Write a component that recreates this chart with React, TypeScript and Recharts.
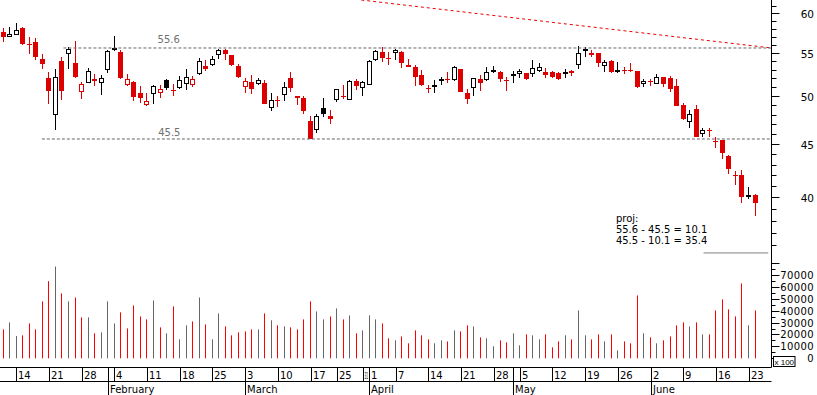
import React from 'react';
import { ComposedChart, Bar, XAxis, YAxis, ReferenceLine, ReferenceDot } from 'recharts';

// ---------- data ----------
const tradingDays = [
  '01-10','01-11','01-14','01-15','01-16','01-17','01-18','01-21','01-22','01-23','01-24','01-25','01-28','01-29','01-30','01-31',
  '02-01','02-04','02-05','02-06','02-07','02-08','02-11','02-12','02-13','02-14','02-15','02-18','02-19','02-20','02-21','02-22','02-25','02-26','02-27','02-28','02-29',
  '03-03','03-04','03-05','03-06','03-07','03-10','03-11','03-12','03-13','03-14','03-17','03-18','03-19','03-20','03-25','03-26','03-27','03-28','03-31',
  '04-01','04-02','04-03','04-04','04-07','04-08','04-09','04-10','04-11','04-14','04-15','04-16','04-17','04-18','04-21','04-22','04-23','04-24','04-25','04-28','04-29','04-30',
  '05-02','05-05','05-06','05-07','05-08','05-09','05-12','05-13','05-14','05-15','05-16','05-19','05-20','05-21','05-22','05-23','05-26','05-27','05-28','05-29','05-30',
  '06-02','06-03','06-04','06-05','06-06','06-09','06-10','06-11','06-12','06-13','06-16','06-17','06-18','06-19','06-20','06-23','06-24',
];

const openPrices = [
  57.6,57.0,57.2,58.1,56.1,56.3,54.3,52.0,48.0,54.0,54.9,53.8,50.5,51.5,51.9,51.5,
  53.0,55.5,55.1,51.2,51.6,50.4,49.0,50.2,50.4,51.8,50.7,50.9,51.4,51.2,52.5,53.4,53.5,54.7,55.4,54.7,53.4,
  51.0,51.6,51.4,51.5,48.7,49.6,50.1,52.0,50.0,49.8,47.3,46.4,48.7,47.9,49.6,50.0,49.6,51.7,50.9,
  51.3,54.2,55.1,54.4,55.0,55.1,53.55,53.3,52.4,50.9,51.2,51.9,51.95,51.8,53.1,50.4,50.9,51.9,51.8,52.7,52.7,51.85,
  52.4,52.45,52.6,52.45,52.8,52.7,52.7,52.6,52.45,52.9,53.5,55.4,55.0,55.0,53.4,54.0,52.7,53.0,52.95,52.8,51.4,
  51.7,51.4,52.15,52.0,51.15,49.0,47.25,48.6,46.0,46.45,45.3,45.35,43.8,42.0,42.0,40.25,40.2,
];
const highPrices = [
  58.1,58.2,58.7,58.2,57.0,56.8,54.9,52.7,53.1,54.5,55.7,56.5,51.6,53.2,52.5,52.4,
  55.3,57.1,55.3,52.5,51.7,51.1,50.3,51.2,51.3,51.9,51.4,52.3,53.1,52.3,54.4,54.1,54.6,55.5,55.5,54.8,53.7,
  52.1,52.4,52.0,51.8,50.3,50.0,51.6,52.7,50.05,50.0,47.9,48.1,49.8,48.5,50.8,51.3,51.8,51.9,51.7,
  54.1,55.3,55.7,55.1,55.5,55.2,54.3,53.55,53.0,51.3,51.8,52.2,52.7,53.4,53.1,50.8,52.0,52.4,53.3,53.4,52.85,52.2,
  52.85,53.05,52.6,54.1,53.8,53.2,52.85,52.75,53.1,52.95,55.8,55.7,55.3,55.0,54.1,54.15,53.9,53.3,53.75,52.85,51.9,
  51.9,52.45,52.2,52.25,51.9,49.25,48.5,49.0,46.6,46.6,45.7,45.4,43.9,42.4,42.5,40.9,40.35,
];
const lowPrices = [
  56.4,57.0,57.2,56.0,54.9,54.2,53.1,49.1,46.4,49.6,53.1,52.1,49.7,51.5,51.1,50.1,
  52.6,55.2,51.9,51.1,49.5,49.3,48.9,49.1,49.8,50.7,50.0,50.8,50.7,51.0,52.4,52.8,53.4,54.3,54.1,53.4,52.0,
  50.4,50.2,51.2,49.1,48.4,48.8,49.5,50.5,49.0,48.1,45.5,46.1,47.8,47.0,49.4,49.7,49.6,50.7,50.0,
  51.2,54.0,53.9,53.5,54.2,53.2,53.3,51.1,51.1,50.4,50.3,51.3,51.5,51.7,50.45,49.2,50.0,50.6,51.7,52.6,51.6,50.6,
  51.5,52.05,51.8,52.2,52.75,52.0,52.05,51.8,52.05,52.3,53.1,54.5,54.5,53.3,52.7,52.6,52.65,52.5,52.7,50.9,51.0,
  51.15,51.4,51.0,50.5,48.9,47.45,46.6,45.7,45.7,45.7,44.6,43.5,42.15,41.1,39.5,39.9,38.4,
];
const closePrices = [
  56.9,57.4,57.8,56.1,56.0,54.5,53.7,50.6,52.2,50.6,55.5,52.2,51.4,52.8,51.7,52.0,
  55.2,55.6,52.1,51.9,49.9,49.8,49.5,51.1,50.8,50.9,50.6,51.8,52.2,51.9,54.0,53.1,54.3,55.3,54.9,53.5,52.2,
  51.7,50.8,51.8,49.2,49.6,49.5,51.0,50.9,49.8,48.4,45.5,47.9,48.1,47.5,50.8,49.9,51.7,51.15,51.6,
  54.0,55.2,54.4,54.3,55.4,53.8,53.35,52.2,51.2,50.85,51.25,51.95,51.9,53.3,50.5,49.7,52.0,51.5,52.7,53.0,51.9,51.8,
  52.45,52.9,51.95,53.15,53.3,52.4,52.2,51.95,52.7,52.65,55.0,55.45,54.8,53.8,53.9,52.7,53.0,52.9,52.85,51.0,51.75,
  51.65,52.15,51.4,50.8,48.95,47.55,48.1,45.7,46.4,46.3,45.25,44.15,42.6,41.95,40.0,40.05,39.5,
];
const volumes = [
  24300,30200,18700,19300,29300,24300,47800,64800,77100,54500,47800,51100,34400,34400,21000,21800,
  47800,29300,38600,25100,44400,35200,32700,48600,26000,21000,43600,15900,27700,31000,51100,28500,15900,37700,26800,19300,21800,
  22600,24300,24300,37700,31900,27700,26800,26000,24300,32700,47800,39400,32700,35200,41900,32700,36000,21000,23500,
  36000,32700,29300,16800,15100,18400,12600,23500,19300,15900,12600,15100,14200,23500,22600,27700,26800,17600,16800,10100,15100,13400,
  21000,10900,20100,19300,15900,20100,9200,14200,19300,15900,40200,19300,15900,20100,14200,20100,6700,14200,12600,52800,21000,
  17600,12600,15100,18400,27700,30200,26800,30200,20100,20100,40200,49500,41100,35200,62900,27700,40200,
];
const prevCloseBeforeStart = 58.0;

const weekTickDates = ['01-14','01-21','01-28','02-04','02-11','02-18','02-25','03-03','03-10','03-17','03-25','03-31','04-01','04-07','04-14','04-21','04-28','05-05','05-12','05-19','05-26','06-02','06-09','06-16','06-23'];
const weekTickLabels = ['14','21','28','4','11','18','25','3','10','17','25','31','1','7','14','21','28','5','12','19','26','2','9','16','23'];
const monthStartDates = ['02-01','03-03','04-01','05-02','06-02'];
const monthLabels = ['February','March','April','May','June'];

const priceTicks = [36,37,38,39,40,41,42,43,44,45,46,47,48,49,50,51,52,53,54,55,56,57,58,59,60,61];
const volumeTicks = [0,5000,10000,15000,20000,25000,30000,35000,40000,45000,50000,55000,60000,65000,70000,75000,80000];
const volumeTickLabels = ['0','10000','20000','30000','40000','50000','60000','70000'];

const resistanceLevel = 55.6;
const supportLevel = 45.5;
const projectionTarget = 35.4;
const projLines = ['proj:', '55.6 - 45.5 = 10.1', '45.5 - 10.1 = 35.4'];
const trendStart = { idx: 54.75, price: 61.8 };
const trendEnd = { idx: 117.5, price: 55.6 };

// ---------- layout constants ----------
const W = 817;
const AXIS_W = 45.5;
const PLOT_RIGHT = W - AXIS_W;
const PRICE_H = 262;
const VOL_H = 133;
const PAD_SLOTS = 2;
const PRICE_DOMAIN = [Math.log(34.7), Math.log(61.8)];
const VOL_DOMAIN = [-7730, 80920];
const FONT = '"DejaVu Sans", "Liberation Sans", Arial, sans-serif';

const RED = '#dd0000';
const VOL_RED = '#ff0000';
const VOL_GRAY = '#666666';

const rows = Array.from({ length: tradingDays.length + PAD_SLOTS }, (_, i) => {
  if (i >= tradingDays.length) return { idx: i, range: null, volume: null };
  const prev = i === 0 ? prevCloseBeforeStart : closePrices[i - 1];
  return {
    idx: i,
    date: tradingDays[i],
    open: openPrices[i],
    high: highPrices[i],
    low: lowPrices[i],
    close: closePrices[i],
    up: closePrices[i] >= prev,
    range: [Math.log(lowPrices[i]), Math.log(highPrices[i])],
    volume: volumes[i],
  };
});
const SLOT = PLOT_RIGHT / rows.length;

// indices of dates that carry a tick in the date axis
const tickedIdx = tradingDays
  .map((d, i) => (weekTickDates.indexOf(d) >= 0 || monthStartDates.indexOf(d) >= 0 ? i : -1))
  .filter((i) => i >= 0);

// ---------- shapes ----------
function Candle(props: any) {
  const { x, y, width, height, payload } = props;
  if (!payload || payload.open == null) return <g />;
  const top = Math.min(y, y + height);
  const bot = Math.max(y, y + height);
  const lnH = Math.log(payload.high);
  const lnL = Math.log(payload.low);
  const span = lnH - lnL;
  const yOf = (v: number) => (span > 0 ? top + ((lnH - Math.log(v)) / span) * (bot - top) : top);
  const cx = Math.floor(x + width / 2) + 0.5;
  const color = payload.up ? '#000000' : RED;
  const yo = yOf(payload.open);
  const yc = yOf(payload.close);
  const bTop = Math.round(Math.min(yo, yc));
  const bBot = Math.round(Math.max(yo, yc));
  const hollow = payload.close > payload.open;
  return (
    <g>
      <line x1={cx} x2={cx} y1={Math.round(top)} y2={Math.round(bot)} stroke={color} strokeWidth={1} />
      {hollow ? (
        <rect x={cx - 2} y={bTop + 0.5} width={4} height={Math.max(bBot - bTop - 1, 1)} fill="#ffffff" stroke={color} strokeWidth={1} />
      ) : (
        <rect x={cx - 2.5} y={bTop} width={5} height={Math.max(bBot - bTop, 1)} fill={color} />
      )}
    </g>
  );
}

function VolBar(props: any) {
  const { x, y, width, height, payload } = props;
  if (!payload || payload.volume == null) return <g />;
  const cx = Math.floor(x + width / 2);
  return <rect x={cx} y={Math.min(y, y + height)} width={1} height={Math.abs(height)} fill={payload.up ? VOL_GRAY : VOL_RED} />;
}

function PriceTick(props: any) {
  const { x, y, payload } = props;
  const v = Math.round(Math.exp(payload.value));
  const major = v % 5 === 0;
  const yy = Math.round(y) + 0.5;
  return (
    <g>
      <line x1={x} x2={x + (major ? 8 : 5)} y1={yy} y2={yy} stroke="#000" strokeWidth={1} />
      {major && (
        <text x={x + 42.5} y={y + 5} textAnchor="end" fontSize={10.5} fontFamily={FONT} fill="#000">{v}</text>
      )}
    </g>
  );
}

function VolTick(props: any) {
  const { x, y, payload } = props;
  const v = payload.value;
  const major = v % 10000 === 0;
  const yy = Math.round(y) + 0.5;
  const label = volumeTickLabels.indexOf(String(v)) >= 0 ? String(v) : null;
  return (
    <g>
      <line x1={x} x2={x + (major ? 8 : 4)} y1={yy} y2={yy} stroke="#000" strokeWidth={1} />
      {label && (
        <text x={x + 42.5} y={y + 4} textAnchor="end" fontSize={10} letterSpacing={0.4} fontFamily={FONT} fill="#000">{label}</text>
      )}
      {v === 0 && (
        <g>
          <rect x={x + 2} y={yy - 2} width={21.5} height={10} fill="#ffffff" stroke="#000" strokeWidth={1} />
          <text x={x + 12.75} y={yy + 6} textAnchor="middle" fontSize={8} fontFamily='"Liberation Sans", Arial, sans-serif' fill="#000">x 100</text>
        </g>
      )}
    </g>
  );
}

function DateTick(props: any) {
  const { x, y, payload } = props;
  const i = payload.value;
  const date = tradingDays[i];
  const first = i === 0;
  if (!date && !first) return <g />;
  const xx = Math.round(x) + 0.5;
  const wk = weekTickDates.indexOf(date);
  const mo = monthStartDates.indexOf(date);
  let fit: number | undefined;
  let fs = 10;
  if (wk >= 0) {
    const next = tickedIdx.find((j) => j > i);
    const avail = next != null ? (next - i) * SLOT - 3 : 100;
    const est = weekTickLabels[wk].length * 6.3;
    if (est > avail) {
      fit = Math.max(avail, 3);
      fs = 9;
    }
  }
  return (
    <g>
      {first && <line x1={0} x2={PLOT_RIGHT} y1={y + 14} y2={y + 14} stroke="#000" strokeWidth={1} />}
      {(wk >= 0 || mo >= 0) && (
        <line x1={xx} x2={xx} y1={y} y2={y + (mo >= 0 ? 28 : 14)} stroke="#000" strokeWidth={1} />
      )}
      {wk >= 0 && (
        <text x={xx + (fit ? 1 : 1.5)} y={y + 11.5} fontSize={fs} fontFamily={FONT} fill="#000"
          textLength={fit} lengthAdjust={fit ? 'spacingAndGlyphs' : undefined}>{weekTickLabels[wk]}</text>
      )}
      {mo >= 0 && (
        <text x={xx + 1.5} y={y + 25.5} fontSize={10} fontFamily={FONT} fill="#000">{monthLabels[mo]}</text>
      )}
    </g>
  );
}

function LevelLabel(props: any) {
  const { viewBox, text, dy } = props;
  if (!viewBox) return null;
  return (
    <text x={viewBox.x + 1} y={viewBox.y + 1 + dy} fontSize={10} fontFamily={FONT} fill="#707070">{text}</text>
  );
}

function ProjLabel(props: any) {
  const { viewBox } = props;
  if (!viewBox) return null;
  return (
    <text fontSize={10} fontFamily={FONT} fill="#000">
      {projLines.map((t, k) => (
        <tspan key={k} x={viewBox.x + 1} y={viewBox.y + 1 + k * 11}>{t}</tspan>
      ))}
    </text>
  );
}

export default function App() {
  const ln = Math.log;
  return (
    <div style={{ position: 'absolute', left: 0, top: 0, width: W, height: PRICE_H + VOL_H, background: '#fff', fontFamily: FONT }}>
      <ComposedChart width={W} height={PRICE_H} data={rows} margin={{ top: 0, right: 0, bottom: 0, left: 0 }}>
        <XAxis dataKey="idx" type="category" hide />
        <XAxis xAxisId="n" dataKey="idx" type="number" domain={[-0.5, 117.5]} allowDataOverflow hide />
        <YAxis
          orientation="right"
          width={AXIS_W}
          type="number"
          domain={PRICE_DOMAIN}
          allowDataOverflow
          ticks={priceTicks.map((p) => ln(p))}
          interval={0}
          tickSize={0}
          tickMargin={0}
          tickLine={false}
          axisLine={{ stroke: '#000' }}
          tick={<PriceTick />}
        />
        <ReferenceLine
          xAxisId="n"
          segment={[{ x: trendStart.idx, y: ln(trendStart.price) }, { x: trendEnd.idx, y: ln(trendEnd.price) }]}
          stroke="#ee0000"
          strokeDasharray="3 3"
          ifOverflow="visible"
        />
        <ReferenceLine
          xAxisId="n"
          segment={[{ x: 9.2, y: ln(resistanceLevel) }, { x: 117.5, y: ln(resistanceLevel) }]}
          stroke="#666"
          strokeDasharray="3 2"
          ifOverflow="visible"
        />
        <ReferenceLine
          xAxisId="n"
          segment={[{ x: 5.9, y: ln(supportLevel) }, { x: 117.5, y: ln(supportLevel) }]}
          stroke="#666"
          strokeDasharray="3 2"
          ifOverflow="visible"
        />
        <ReferenceLine
          xAxisId="n"
          segment={[{ x: 107.1, y: ln(projectionTarget) }, { x: 117.0, y: ln(projectionTarget) }]}
          stroke="#808080"
          ifOverflow="visible"
        />
        <ReferenceDot xAxisId="n" x={23.6} y={ln(resistanceLevel)} r={1} fill="none" stroke="none" ifOverflow="visible"
          label={<LevelLabel text="55.6" dy={-5} />} />
        <ReferenceDot xAxisId="n" x={23.7} y={ln(supportLevel)} r={1} fill="none" stroke="none" ifOverflow="visible"
          label={<LevelLabel text="45.5" dy={-2.5} />} />
        <ReferenceDot xAxisId="n" x={93.7} y={ln(37.86)} r={1} fill="none" stroke="none" ifOverflow="visible"
          label={<ProjLabel />} />
        <Bar dataKey="range" isAnimationActive={false} shape={(p: any) => <Candle {...p} />} />
      </ComposedChart>
      <ComposedChart width={W} height={VOL_H} data={rows} margin={{ top: 0, right: 0, bottom: 0, left: 0 }}>
        <XAxis
          dataKey="idx"
          type="category"
          height={27.5}
          interval={0}
          tickSize={0}
          tickMargin={0}
          tickLine={false}
          axisLine={{ stroke: '#000' }}
          tick={<DateTick />}
        />
        <YAxis
          orientation="right"
          width={AXIS_W}
          type="number"
          domain={VOL_DOMAIN}
          allowDataOverflow
          ticks={volumeTicks}
          interval={0}
          tickSize={0}
          tickMargin={0}
          tickLine={false}
          axisLine={{ stroke: '#000' }}
          tick={<VolTick />}
        />
        <Bar dataKey="volume" isAnimationActive={false} shape={(p: any) => <VolBar {...p} />} />
      </ComposedChart>
    </div>
  );
}
